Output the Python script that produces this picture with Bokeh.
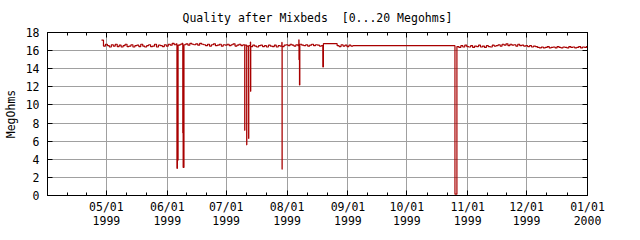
import pandas as pd
from bokeh.plotting import figure
from bokeh.models import Range1d, FixedTicker, LinearAxis, DatetimeAxis, ColumnDataSource
from bokeh.embed import file_html
from bokeh.resources import INLINE

# ---------------- data ----------------
title_text = "Quality after Mixbeds \u00a0[0...20 Megohms]"
y_label = "MegOhms"

seg_a_start = "1999-04-28 12:00"
seg_a_values = [
    17.15, 16.50, 16.70,
    16.55, 16.40, 16.65, 16.50, 16.70, 16.45, 16.60, 16.40, 16.55, 16.70, 16.45, 16.50, 16.65, 16.40, 16.55, 16.60,
    16.45, 16.70, 16.50, 16.40, 16.55, 16.65, 16.45, 16.50, 16.70, 16.40, 16.60, 16.55, 16.45, 16.65, 16.50,
    16.70, 16.60, 16.80, 16.65, 16.75, 16.60, 16.70, 16.80, 16.65, 16.75, 16.60, 16.80, 16.70, 16.65, 16.75,
    16.60, 16.80, 16.70, 16.65, 16.55, 16.70, 16.50, 16.65, 16.75, 16.55, 16.60, 16.70, 16.50, 16.65, 16.60,
    16.70, 16.55, 16.65, 16.75, 16.50, 16.60, 16.70, 16.55, 16.65, 16.60, 16.50, 16.55, 16.45, 16.60, 16.50,
    16.40, 16.55, 16.60, 16.45, 16.55, 16.40, 16.60, 16.50, 16.45, 16.60, 16.40, 16.55, 16.50, 16.45, 16.60, 16.65,
    16.55, 16.70, 16.60, 16.50, 16.65, 16.55, 16.70, 16.60, 16.55, 16.65, 16.50, 16.60, 16.70, 16.55, 16.65,
    16.60, 16.50, 16.55, 16.77, 16.77, 16.77, 16.77, 16.77, 16.77, 16.77, 16.55, 16.45, 16.65, 16.50, 16.60, 16.45,
    16.60, 16.50, 16.55, 16.55,
]
seg_b_start = "1999-10-26 12:00"
seg_b_values = [
    16.45, 16.35, 16.55, 16.40, 16.60, 16.45,
    16.40, 16.55, 16.35, 16.50, 16.45, 16.60, 16.40, 16.50, 16.35, 16.55, 16.45, 16.40, 16.60, 16.50, 16.55,
    16.65, 16.50, 16.70, 16.60, 16.75, 16.55, 16.70, 16.60, 16.65, 16.50, 16.70, 16.55, 16.60, 16.50, 16.55,
    16.45, 16.55, 16.40, 16.50, 16.45, 16.35, 16.30, 16.40, 16.30, 16.35, 16.45, 16.30, 16.35, 16.40, 16.30,
    16.45, 16.35, 16.30, 16.40, 16.35, 16.30, 16.45, 16.35, 16.40, 16.30, 16.35, 16.45, 16.30, 16.40, 16.35, 16.50,
]
event_times = [
    "1999-06-05 22:00", "1999-06-06 04:00", "1999-06-08 21:30", "1999-06-09 02:00",
    "1999-07-10 10:30", "1999-07-11 10:30", "1999-07-12 10:30", "1999-07-13 08:00",
    "1999-07-13 10:30", "1999-07-29 08:00", "1999-07-29 11:00", "1999-08-07 00:00",
    "1999-08-07 02:00", "1999-08-07 08:00", "1999-08-19 05:00", "1999-10-25 12:00",
]
event_values = [3.0, 3.9, 6.9, 3.1, 7.2, 5.6, 6.3, 16.95, 11.5, 16.9, 2.9, 17.2, 15.0, 12.2, 14.2, 0.15]

month_starts = ["1999-04-01", "1999-05-01", "1999-06-01", "1999-07-01", "1999-08-01", "1999-09-01",
                "1999-10-01", "1999-11-01", "1999-12-01", "2000-01-01"]
x_tick_labels = ["", "05/01\n1999", "06/01\n1999", "07/01\n1999", "08/01\n1999", "09/01\n1999",
                 "10/01\n1999", "11/01\n1999", "12/01\n1999", "01/01\n2000"]
y_ticks = [0, 2, 4, 6, 8, 10, 12, 14, 16, 18]

# ---------------- build series ----------------
ta = pd.date_range(seg_a_start, periods=len(seg_a_values), freq="D")
tb = pd.date_range(seg_b_start, periods=len(seg_b_values), freq="D")
df = pd.concat([
    pd.DataFrame({"t": ta, "v": seg_a_values}),
    pd.DataFrame({"t": tb, "v": seg_b_values}),
    pd.DataFrame({"t": pd.to_datetime(event_times), "v": event_values}),
]).sort_values("t").reset_index(drop=True)

FONT = "DejaVu Sans Mono"
FS = "11.5px"
RED = "#a80000"
GRID = "#a0a0a0"

ms = [pd.Timestamp(m).value / 1e6 for m in month_starts]
minor = []
for a, b in zip(ms[:-1], ms[1:]):
    minor += [a + (b - a) / 3, a + 2 * (b - a) / 3]
major = ms[1:]
overrides = {m: lab for m, lab in zip(ms, x_tick_labels)}

p = figure(width=640, height=240, x_axis_type="datetime", output_backend="svg",
           toolbar_location=None,
           x_range=Range1d(pd.Timestamp(month_starts[0]), pd.Timestamp(month_starts[-1])),
           y_range=Range1d(0, 18),
           min_border_left=43, min_border_right=53, min_border_top=32, min_border_bottom=45)
p.background_fill_color = "white"
p.border_fill_color = "white"
p.outline_line_color = "black"
p.outline_line_width = 1

xt = FixedTicker(ticks=major, minor_ticks=minor)
yt = FixedTicker(ticks=y_ticks, minor_ticks=[])

def style_axis(ax, labels=True):
    ax.axis_line_color = "black"
    ax.major_tick_line_color = "black"
    ax.minor_tick_line_color = "black"
    ax.major_tick_in = 5
    ax.major_tick_out = 0
    ax.minor_tick_in = 3
    ax.minor_tick_out = 0
    ax.major_label_text_font = FONT
    ax.major_label_text_font_size = FS if labels else "0px"
    ax.major_label_text_color = "black"

xa = p.xaxis[0]
xa.ticker = xt
xa.major_label_overrides = overrides
style_axis(xa)
xa.major_label_text_line_height = 1.0
xa.major_label_standoff = 4

ya = p.yaxis[0]
ya.ticker = yt
style_axis(ya)
ya.major_label_standoff = 8
ya.axis_label = y_label
ya.axis_label_text_font = FONT
ya.axis_label_text_font_size = FS
ya.axis_label_text_font_style = "normal"
ya.axis_label_text_color = "black"
ya.axis_label_standoff = 5

top = DatetimeAxis(ticker=xt)
style_axis(top, labels=False)
top.major_label_overrides = {m: "" for m in ms}
p.add_layout(top, "above")
right = LinearAxis(ticker=yt)
style_axis(right, labels=False)
right.major_label_overrides = {t: "" for t in y_ticks}
p.add_layout(right, "right")

p.xgrid.ticker = xt
p.ygrid.ticker = yt
p.xgrid.grid_line_color = GRID
p.ygrid.grid_line_color = GRID
p.xgrid.grid_line_width = 1
p.ygrid.grid_line_width = 1

p.title.text = title_text
p.title.align = "center"
p.title.text_font = FONT
p.title.text_font_size = FS
p.title.text_font_style = "normal"
p.title.text_color = "black"
p.title.standoff = 14.5

src = ColumnDataSource(df)
p.step("t", "v", source=src, mode="after", line_color=RED, line_width=1.2)

open("out.html", "w").write(file_html(p, INLINE))
